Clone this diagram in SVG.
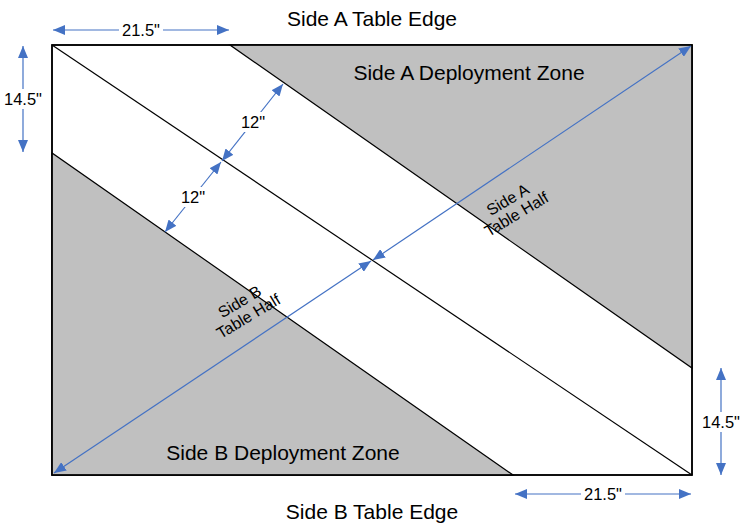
<svg xmlns="http://www.w3.org/2000/svg" width="741" height="529" viewBox="0 0 741 529">
<style>
.t{font-family:"Liberation Sans",Arial,sans-serif;fill:#000}
.big{font-size:21px}
.dim{font-size:16.5px}
.rot{font-size:16px}
.ln{stroke:#000;stroke-width:1.2;fill:none}
.ar{stroke:#4472C4;stroke-width:1.2;fill:none;marker-start:url(#ah);marker-end:url(#ah)}
.zone{fill:#C0C0C0;stroke:#000;stroke-width:1.2}
</style>
<defs>
<marker id="ah" viewBox="0 0 12 10" refX="12" refY="5" markerWidth="12" markerHeight="10" markerUnits="userSpaceOnUse" orient="auto-start-reverse">
<path d="M0,0 L12,5 L0,10 Z" fill="#4472C4"/>
</marker>
</defs>
<rect width="741" height="529" fill="#fff"/>
<g id="table">
<rect x="52" y="45" width="640" height="430" fill="#fff" stroke="#000" stroke-width="1.5"/>
</g>
<g id="zoneA">
<polygon class="zone" points="230,45 692,45 692,368"/>
<text class="t big" x="469" y="80" text-anchor="middle">Side A Deployment Zone</text>
</g>
<g id="zoneB">
<polygon class="zone" points="52,153 52,475 513,475"/>
<text class="t big" x="283" y="460" text-anchor="middle">Side B Deployment Zone</text>
</g>
<g id="border">
<rect x="52" y="45" width="640" height="430" fill="none" stroke="#000" stroke-width="1.5"/>
<line class="ln" x1="52" y1="45" x2="692" y2="475"/>
</g>
<g id="halfA">
<text class="t rot" transform="translate(512,207) rotate(-31)" text-anchor="middle"><tspan x="0" y="-3">Side A</tspan><tspan x="0" y="14">Table Half</tspan></text>
</g>
<g id="halfB">
<text class="t rot" transform="translate(244,309) rotate(-31)" text-anchor="middle"><tspan x="0" y="-3">Side B</tspan><tspan x="0" y="14">Table Half</tspan></text>
</g>
<g id="edges">
<text class="t big" x="372" y="26" text-anchor="middle">Side A Table Edge</text>
<text class="t big" x="372" y="519" text-anchor="middle">Side B Table Edge</text>
</g>
<g id="connectors">
<line class="ar" x1="54" y1="473" x2="371" y2="261"/>
<line class="ar" x1="373" y1="260" x2="691" y2="46"/>
<line class="ar" x1="283" y1="84" x2="222" y2="161"/>
<line class="ar" x1="221" y1="162" x2="165" y2="232"/>
<line class="ar" x1="53" y1="30" x2="229" y2="30"/>
<line class="ar" x1="23" y1="46" x2="23" y2="152"/>
<line class="ar" x1="721" y1="368" x2="721" y2="475"/>
<line class="ar" x1="515" y1="494" x2="691" y2="494"/>
</g>
<g id="dimlabels">
<rect x="119" y="20" width="44" height="20" fill="#fff"/>
<text class="t dim" x="141" y="36" text-anchor="middle">21.5"</text>
<rect x="1" y="89" width="44" height="20" fill="#fff"/>
<text class="t dim" x="23" y="105" text-anchor="middle">14.5"</text>
<rect x="699" y="412" width="42" height="20" fill="#fff"/>
<text class="t dim" x="721" y="428" text-anchor="middle">14.5"</text>
<rect x="581" y="484" width="44" height="20" fill="#fff"/>
<text class="t dim" x="603" y="500" text-anchor="middle">21.5"</text>
<rect x="237" y="112" width="32" height="20" fill="#fff"/>
<text class="t dim" x="253" y="128" text-anchor="middle">12"</text>
<rect x="177" y="187" width="32" height="20" fill="#fff"/>
<text class="t dim" x="193" y="203" text-anchor="middle">12"</text>
</g>
</svg>
